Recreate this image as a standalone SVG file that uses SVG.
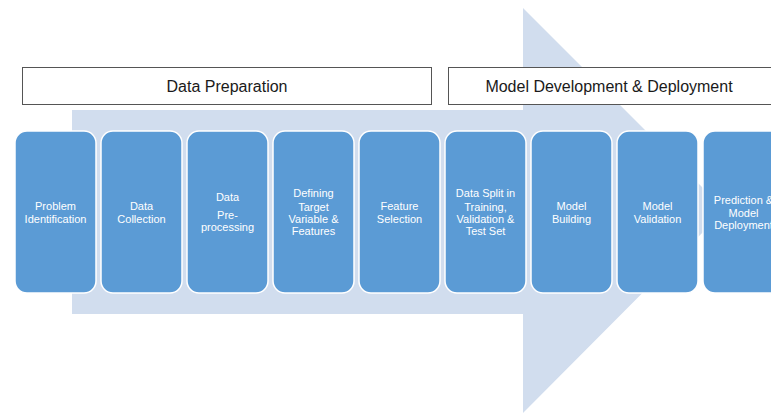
<svg xmlns="http://www.w3.org/2000/svg" width="771" height="413" viewBox="0 0 771 413">
  <style>
    .band { fill: #D1DDEE; }
    .phase rect { fill: #FFFFFF; stroke: #555555; stroke-width: 1; }
    .phase text { font-family: "Liberation Sans", Arial, sans-serif; font-size: 16px; fill: #1A1A1A; text-anchor: middle; }
    .step rect { fill: #5B9BD5; stroke: #FFFFFF; stroke-width: 1.5; }
    .step text { font-family: "Liberation Sans", Arial, sans-serif; font-size: 11px; fill: #FFFFFF; text-anchor: middle; }
  </style>

  <!-- background process arrow -->
  <path class="band" d="M72,110 H523 V8 L725,210 L523,413 V314 H72 Z"/>

  <!-- phase headers -->
  <g id="phase-data-preparation" class="phase">
    <rect x="22.5" y="67.5" width="409" height="37"/>
    <text x="227" y="91.5">Data Preparation</text>
  </g>
  <g id="phase-model-development" class="phase">
    <rect x="448.5" y="67.5" width="330" height="37"/>
    <text x="609" y="91.5">Model Development &amp; Deployment</text>
  </g>

  <!-- process steps -->
  <g id="step-problem-identification" class="step">
    <rect x="15" y="131" width="81" height="162" rx="12"/>
    <text x="55.5" y="210">Problem</text>
    <text x="55.5" y="223">Identification</text>
  </g>
  <g id="step-data-collection" class="step">
    <rect x="101" y="131" width="81" height="162" rx="12"/>
    <text x="141.5" y="210">Data</text>
    <text x="141.5" y="223">Collection</text>
  </g>
  <g id="step-data-preprocessing" class="step">
    <rect x="187" y="131" width="81" height="162" rx="12"/>
    <text x="227.5" y="201">Data</text>
    <text x="227.5" y="219">Pre-</text>
    <text x="227.5" y="231">processing</text>
  </g>
  <g id="step-target-features" class="step">
    <rect x="273" y="131" width="81" height="162" rx="12"/>
    <text x="313.5" y="197">Defining</text>
    <text x="313.5" y="211">Target</text>
    <text x="313.5" y="223">Variable &amp;</text>
    <text x="313.5" y="235">Features</text>
  </g>
  <g id="step-feature-selection" class="step">
    <rect x="359" y="131" width="81" height="162" rx="12"/>
    <text x="399.5" y="210">Feature</text>
    <text x="399.5" y="223">Selection</text>
  </g>
  <g id="step-data-split" class="step">
    <rect x="445" y="131" width="81" height="162" rx="12"/>
    <text x="485.5" y="197">Data Split in</text>
    <text x="485.5" y="211">Training,</text>
    <text x="485.5" y="223">Validation &amp;</text>
    <text x="485.5" y="235">Test Set</text>
  </g>
  <g id="step-model-building" class="step">
    <rect x="531" y="131" width="81" height="162" rx="12"/>
    <text x="571.5" y="210">Model</text>
    <text x="571.5" y="223">Building</text>
  </g>
  <g id="step-model-validation" class="step">
    <rect x="617" y="131" width="81" height="162" rx="12"/>
    <text x="657.5" y="210">Model</text>
    <text x="657.5" y="223">Validation</text>
  </g>
  <g id="step-prediction-deployment" class="step">
    <rect x="703" y="131" width="81" height="162" rx="12"/>
    <text x="743.5" y="204">Prediction &amp;</text>
    <text x="743.5" y="217">Model</text>
    <text x="743.5" y="229">Deployment</text>
  </g>

  <!-- connectors: none drawn; the steps sit on the shared arrow -->
  <g id="connectors"/>
</svg>
